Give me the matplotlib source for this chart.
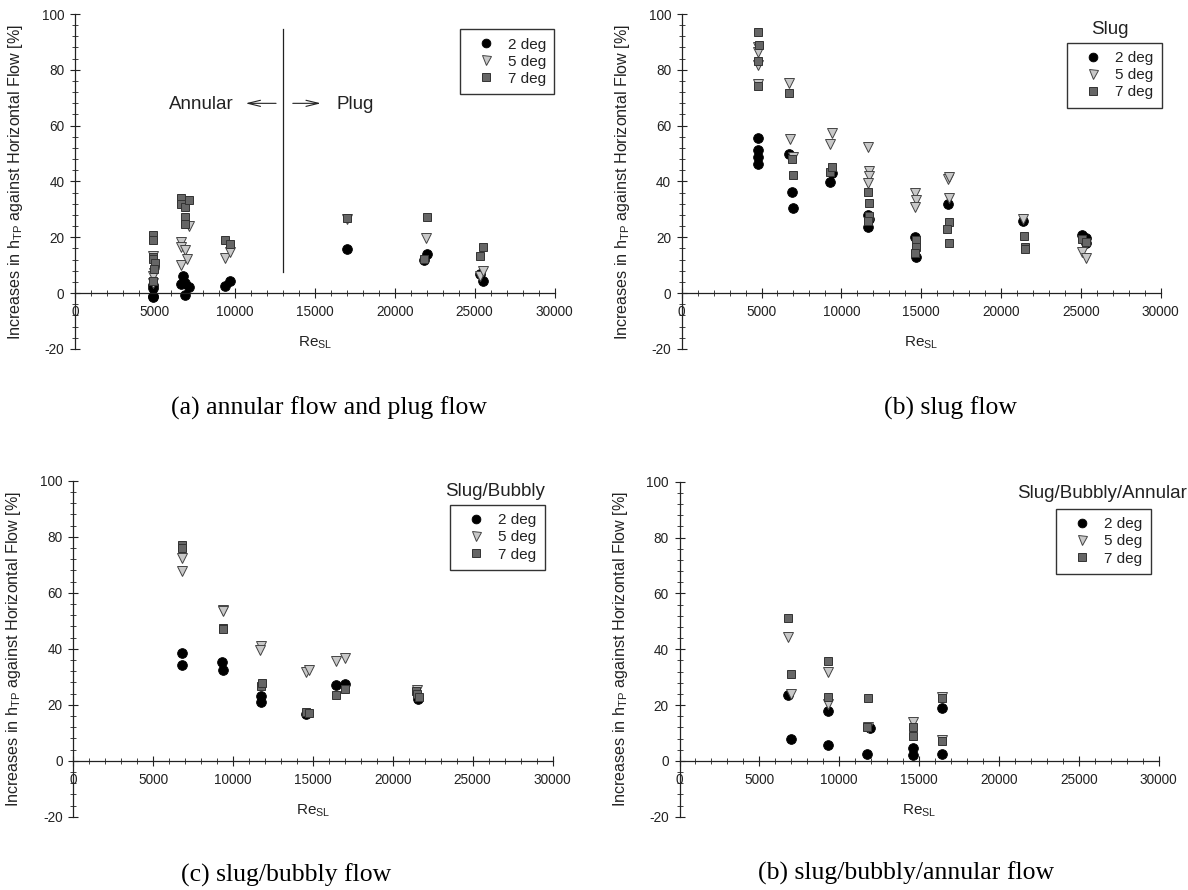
import matplotlib
matplotlib.use('Agg')
import matplotlib.pyplot as plt
from matplotlib.ticker import MultipleLocator

plt.rcParams['font.family'] = ['Liberation Sans', 'DejaVu Sans']
plt.rcParams['mathtext.default'] = 'regular'
plt.rcParams['axes.unicode_minus'] = False

# (a) annular flow and plug flow
a_re_2 = [4850, 4850, 4900, 4900, 6650, 6750, 6900, 7100, 6900, 9400, 9700, 17000, 21800, 22000, 25350, 25500]
a_2 = [-1.5, -1.0, 1.8, 3.0, 3.2, 6.0, 3.8, 2.1, -0.6, 2.4, 4.2, 15.8, 11.9, 14.1, 6.9, 4.4]
a_re_5 = [4900, 4950, 4900, 4850, 6650, 6600, 6650, 6900, 7000, 7100, 9400, 9700, 17000, 21950, 25350, 25500]
a_5 = [13.4, 7.2, 6.2, 3.5, 18.5, 16.5, 10.1, 15.3, 12.2, 23.9, 12.5, 14.7, 26.5, 19.7, 6.0, 7.8]
a_re_7 = [4900, 4850, 4850, 4900, 5000, 4950, 4850, 6630, 6630, 6900, 7100, 6900, 6900, 9400, 9700,
          17000, 21800, 22000, 25350, 25550]
a_7 = [20.9, 19.1, 13.1, 12.2, 10.7, 8.6, 4.2, 34.2, 32.0, 31.0, 33.2, 27.4, 24.8, 19.1, 17.7,
       27.1, 12.2, 27.4, 13.4, 16.7]

# (b) slug flow
b_re_2 = [4800, 4800, 4800, 4800, 6750, 6900, 7000, 9300, 9400, 11700, 11750, 11700, 14600, 14650,
          16700, 21400, 25050, 25350, 25300]
b_2 = [55.5, 51.3, 48.9, 46.3, 49.8, 36.2, 30.4, 39.7, 43.2, 28.0, 26.5, 23.8, 20.0, 13.1,
       32.0, 26.0, 20.9, 19.7, 17.8]
b_re_5 = [4800, 4800, 4800, 4800, 6750, 6800, 6950, 9300, 9400, 11700, 11750, 11750, 11700, 14600,
          14650, 14600, 16700, 16750, 16750, 21400, 25050, 25350]
b_5 = [88.0, 86.5, 81.7, 75.0, 75.2, 55.1, 48.9, 53.5, 57.3, 52.3, 43.9, 42.0, 39.4, 36.0,
       33.4, 30.8, 40.8, 41.5, 34.0, 26.5, 14.9, 12.5]
b_re_7 = [4800, 4850, 4800, 4800, 6750, 6900, 6950, 9300, 9400, 11700, 11750, 11750, 11700, 14650,
          14650, 14600, 16750, 16650, 16750, 21450, 21500, 21500, 25100, 25350]
b_7 = [93.7, 88.9, 83.3, 74.3, 71.8, 48.0, 42.4, 43.5, 45.3, 36.4, 32.2, 27.7, 25.7, 19.1,
       16.7, 14.3, 25.6, 22.9, 18.1, 20.6, 16.5, 15.7, 19.3, 18.5]

# (c) slug/bubbly flow
c_re_2 = [6800, 6800, 9300, 9400, 11750, 11780, 14600, 16430, 17000, 21600]
c_2 = [38.3, 34.2, 35.4, 32.4, 23.1, 21.0, 16.7, 27.0, 27.5, 21.9]
c_re_5 = [6800, 6800, 9350, 9400, 11750, 11700, 14570, 14780, 16430, 17010, 21500]
c_5 = [72.3, 67.6, 54.0, 53.6, 40.9, 39.6, 31.6, 32.5, 35.7, 36.6, 25.3]
c_re_7 = [6820, 6820, 9380, 9400, 11750, 11800, 14600, 14750, 16430, 17010, 21480, 21550, 21650]
c_7 = [77.0, 75.8, 47.3, 47.0, 26.8, 27.7, 17.5, 17.1, 23.4, 25.5, 25.0, 24.0, 22.6]

# (d) slug/bubbly/annular flow
d_re_2 = [6810, 6960, 9280, 9280, 11720, 11900, 14600, 14600, 16420, 16420]
d_2 = [23.5, 8.0, 17.8, 5.6, 2.3, 11.8, 4.7, 2.0, 18.8, 2.4]
d_re_5 = [6810, 6960, 9280, 9280, 11800, 14600, 16420, 16420]
d_5 = [44.2, 23.8, 31.9, 20.2, 12.0, 14.0, 22.9, 7.3]
d_re_7 = [6810, 6960, 9280, 9280, 11820, 11720, 14600, 14600, 16410, 16410]
d_7 = [51.3, 31.1, 35.7, 22.9, 22.6, 12.2, 12.2, 9.0, 22.4, 7.1]

labels = ['2 deg', '5 deg', '7 deg']

W, H = 1188, 890
fig = plt.figure(figsize=(W / 100, H / 100), dpi=100)


def make_panel(left, right, top, bottom):
    ax = fig.add_axes([left / W, 1 - bottom / H, (right - left) / W, (bottom - top) / H])
    ax.set_xlim(0, 30000)
    ax.set_ylim(-20, 100)
    ax.spines['top'].set_visible(False)
    ax.spines['right'].set_visible(False)
    ax.spines['bottom'].set_position(('data', 0))
    for s in ('left', 'bottom'):
        ax.spines[s].set_linewidth(0.9)
        ax.spines[s].set_color('#222222')
    ax.set_xticks(range(0, 30001, 5000))
    ax.set_yticks(range(-20, 101, 20))
    ax.xaxis.set_minor_locator(MultipleLocator(1000))
    ax.yaxis.set_minor_locator(MultipleLocator(4))
    ax.tick_params(which='major', direction='inout', length=7, width=0.8, color='#222222',
                   labelsize=9.8, labelcolor='#222222')
    ax.tick_params(which='minor', direction='inout', length=4, width=0.6, color='#222222')
    ax.tick_params(axis='x', which='major', pad=5.0)
    ax.tick_params(axis='y', which='major', pad=4.2)
    ax.set_ylabel('Increases in h$_{TP}$ against Horizontal Flow [%]', fontsize=11.6, color='#222222')
    ax.yaxis.set_label_coords(-0.104, 0.5)
    ax.text(0.5, 0.018, 'Re$_{SL}$', transform=ax.transAxes, ha='center', va='center',
            fontsize=11, color='#222222')
    return ax


def scatter3(ax, x2, y2, x5, y5, x7, y7):
    h1, = ax.plot(x2, y2, ls='none', marker='o', ms=7.0, mfc='black', mec='black', mew=0.6)
    h2, = ax.plot(x5, y5, ls='none', marker='v', ms=7.2, mfc='#c8c8c8', mec='#444444', mew=0.7)
    h3, = ax.plot(x7, y7, ls='none', marker='s', ms=6.2, mfc='#666666', mec='#333333', mew=0.7)
    return [h1, h2, h3]


def add_legend(ax, handles, left, top):
    leg = ax.legend(handles, labels, loc='upper left', bbox_to_anchor=(left / W, 1 - top / H),
                    bbox_transform=fig.transFigure, borderaxespad=0, fontsize=11,
                    frameon=True, fancybox=False, handlelength=2.3, handletextpad=0.3,
                    borderpad=0.55, labelspacing=0.2, numpoints=1, markerscale=0.9)
    leg.get_frame().set_edgecolor('black')
    leg.get_frame().set_linewidth(1.0)
    for t in leg.get_texts():
        t.set_color('#222222')
    return leg


ax_a = make_panel(75, 554.6, 14, 349)
add_legend(ax_a, scatter3(ax_a, a_re_2, a_2, a_re_5, a_5, a_re_7, a_7), 459.6, 29.3)
ax_a.plot([13000, 13000], [7.7, 94.5], color='#222222', lw=0.9)
ax_a.text(7900, 67.5, 'Annular', fontsize=13.5, ha='center', va='center', color='#222222')
ax_a.text(17550, 67.5, 'Plug', fontsize=13.5, ha='center', va='center', color='#222222')
arrow = dict(arrowstyle='->,head_length=0.9,head_width=0.22', lw=0.8, color='#222222')
ax_a.annotate('', xy=(10500, 68), xytext=(12750, 68), arrowprops=arrow)
ax_a.annotate('', xy=(15550, 68), xytext=(13450, 68), arrowprops=arrow)

ax_b = make_panel(681.7, 1160.6, 14, 349)
add_legend(ax_b, scatter3(ax_b, b_re_2, b_2, b_re_5, b_5, b_re_7, b_7), 1067, 42.7)
fig.text(1110 / W, 1 - 30 / H, 'Slug', fontsize=13.5, ha='center', va='center', color='#222222')

ax_c = make_panel(73.2, 552.5, 480.7, 816.7)
add_legend(ax_c, scatter3(ax_c, c_re_2, c_2, c_re_5, c_5, c_re_7, c_7), 450, 505)
fig.text(494.6 / W, 1 - 491.7 / H, 'Slug/Bubbly', fontsize=13.5, ha='center', va='center', color='#222222')

ax_d = make_panel(679.5, 1158.7, 481.7, 816.7)
add_legend(ax_d, scatter3(ax_d, d_re_2, d_2, d_re_5, d_5, d_re_7, d_7), 1056.3, 509)
fig.text(1102.5 / W, 1 - 493.3 / H, 'Slug/Bubbly/Annular', fontsize=13.5, ha='center', va='center',
         color='#222222')

cap = dict(fontsize=18.5, family='Liberation Serif', ha='center', va='center', color='black')
fig.text(329 / W, 1 - 408 / H, '(a) annular flow and plug flow', **cap)
fig.text(950.6 / W, 1 - 408 / H, '(b) slug flow', **cap)
fig.text(286.6 / W, 1 - 875 / H, '(c) slug/bubbly flow', **cap)
fig.text(906.5 / W, 1 - 873 / H, '(b) slug/bubbly/annular flow', **cap)

fig.savefig('out.png', dpi=100)
